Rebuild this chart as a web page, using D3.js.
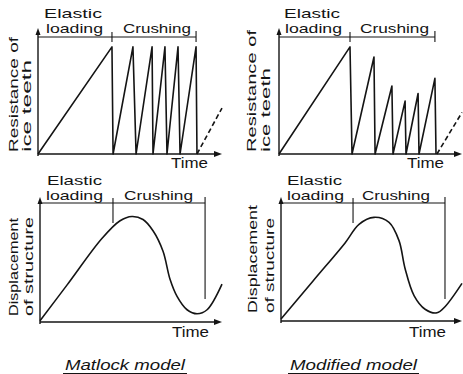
<!doctype html>
<html>
<head>
<meta charset="utf-8">
<title>Ice crushing models</title>
<script src="https://cdn.jsdelivr.net/npm/d3@7"></script>
<style>
body { margin: 0; background: #fff; }
svg text { font-family: "Liberation Sans", Arial, sans-serif; fill: #141414; }
</style>
</head>
<body>
<svg width="463" height="374"></svg>
<script>
// time is in arbitrary units, 0..10 along each axis; values are fractions of the axis height
var matlockResT = [0, 4.02, 4.08, 5.16, 5.33, 6.2, 6.25, 6.9, 7.01, 7.61, 7.72, 8.59, 8.64];
var matlockResV = [0, 0.85, 0, 0.85, 0, 0.85, 0, 0.85, 0, 0.85, 0, 0.85, 0];
var matlockNextT = [8.64, 10];
var matlockNextV = [0, 0.365];

var modifiedResT = [0, 3.88, 3.99, 5.19, 5.25, 6.17, 6.23, 6.89, 6.94, 7.6, 7.65, 8.52, 8.58];
var modifiedResV = [0, 0.85, 0, 0.77, 0, 0.54, 0, 0.42, 0, 0.48, 0, 0.6, 0];
var modifiedNextT = [8.63, 10];
var modifiedNextV = [0, 0.33];

var matlockDispT = [0, 1.48, 3.4, 4.4, 5.05, 5.66, 6.21, 6.76, 7.14, 7.53, 8.08, 8.63, 9.18, 10];
var matlockDispV = [0.01, 0.295, 0.668, 0.81, 0.844, 0.82, 0.73, 0.566, 0.344, 0.205, 0.098, 0.066, 0.098, 0.303];

var modifiedDispT = [0, 1.77, 3.54, 4.31, 5.14, 5.97, 6.52, 6.85, 7.35, 7.96, 8.62, 9.06, 10];
var modifiedDispV = [0.016, 0.323, 0.63, 0.78, 0.836, 0.795, 0.648, 0.426, 0.205, 0.095, 0.066, 0.115, 0.303];

// end of elastic loading, end of crushing
var matlockResPhases = [4.02, 8.59];
var modifiedResPhases = [3.88, 8.52];
var matlockDispPhases = [4.01, 9.07];
var modifiedDispPhases = [3.98, 9.06];

var phaseNames = ["Elastic", "loading", "Crushing"];
var resLabel = ["Resistance of", "ice teeth"];
var dispLabel = ["Displacement", "of structure"];
var timeLabel = "Time";
var modelNames = ["Matlock model", "Modified model"];

var svg = d3.select("svg");
var ink = "#141414";

function txt(g, s, x, y, len, size, rotate) {
    var t = g.append("text")
        .attr("x", x).attr("y", y)
        .attr("font-size", size)
        .attr("textLength", len)
        .attr("lengthAdjust", "spacingAndGlyphs")
        .text(s);
    if (rotate) t.attr("transform", "rotate(-90," + x + "," + y + ")");
    return t;
}

function panel(p) {
    var g = svg.append("g");
    var x = d3.scaleLinear().domain([0, 10]).range([p.x0, p.x1]);
    var y = d3.scaleLinear().domain([0, 1]).range([p.y0, p.top]);

    // axes
    g.append("line").attr("x1", p.x0).attr("x2", p.x0).attr("y1", p.y0 + 2).attr("y2", p.top + 3)
        .attr("stroke", ink).attr("stroke-width", 1.4);
    g.append("line").attr("x1", p.x0).attr("x2", p.x1 - 3).attr("y1", p.y0).attr("y2", p.y0)
        .attr("stroke", ink).attr("stroke-width", 1.4);
    g.append("path")
        .attr("d", "M" + p.x0 + "," + p.top + "l-2.5,7l5,0z").attr("fill", ink);
    g.append("path")
        .attr("d", "M" + p.x1 + "," + p.y0 + "l-8,-3l0,6z").attr("fill", ink);

    // phase bracket
    var e = x(p.phases[0]), c = x(p.phases[1]);
    g.append("line").attr("x1", p.x0).attr("x2", c).attr("y1", p.by).attr("y2", p.by)
        .attr("stroke", ink).attr("stroke-width", 1.2);
    g.append("line").attr("x1", e).attr("x2", e).attr("y1", p.by - 5).attr("y2", p.by + p.eTick)
        .attr("stroke", ink).attr("stroke-width", 1.1);
    g.append("line").attr("x1", c).attr("x2", c).attr("y1", p.by - 6).attr("y2", p.by + p.cTick)
        .attr("stroke", ink).attr("stroke-width", 1.1);

    var line = d3.line().x(function(d) { return x(d[0]); }).y(function(d) { return y(d[1]); });
    if (p.curve) line.curve(p.curve);
    g.append("path").attr("d", line(d3.zip(p.t, p.v)))
        .attr("fill", "none").attr("stroke", ink).attr("stroke-width", 1.6)
        .attr("stroke-linejoin", "round");
    if (p.nt) {
        g.append("path").attr("d", d3.line().x(function(d) { return x(d[0]); }).y(function(d) { return y(d[1]); })(d3.zip(p.nt, p.nv)))
            .attr("fill", "none").attr("stroke", ink).attr("stroke-width", 1.6)
            .attr("stroke-dasharray", "5,3");
    }

    // texts
    txt(g, phaseNames[0], p.lab[0][0], p.lab[0][1], p.lab[0][2], p.fs);
    txt(g, phaseNames[1], p.lab[1][0], p.lab[1][1], p.lab[1][2], p.fs);
    txt(g, phaseNames[2], p.lab[2][0], p.lab[2][1], p.lab[2][2], p.fs);
    txt(g, p.ylab[0], p.yl[0][0], p.yl[0][1], p.yl[0][2], 13.5, true);
    txt(g, p.ylab[1], p.yl[1][0], p.yl[1][1], p.yl[1][2], 13.5, true);
    txt(g, timeLabel, p.tl[0], p.tl[1], 37, 14);
}

panel({ x0: 38, x1: 222, y0: 154, top: 28, by: 37, eTick: 5, cTick: 5, fs: 13.5,
    phases: matlockResPhases, t: matlockResT, v: matlockResV, nt: matlockNextT, nv: matlockNextV,
    lab: [[44, 18, 58], [46, 33, 57], [123, 33, 68]],
    ylab: resLabel, yl: [[18, 152, 115], [31, 152, 92]], tl: [171, 168] });

panel({ x0: 279, x1: 462, y0: 154, top: 28, by: 37, eTick: 5, cTick: 5, fs: 13.5,
    phases: modifiedResPhases, t: modifiedResT, v: modifiedResV, nt: modifiedNextT, nv: modifiedNextV,
    lab: [[284, 17.5, 56], [285, 33, 57], [360, 33, 69]],
    ylab: resLabel, yl: [[256, 152, 122], [270, 152, 84]], tl: [407, 168] });

panel({ x0: 40, x1: 222, y0: 322, top: 197, by: 203, eTick: 20, cTick: 96, fs: 13,
    phases: matlockDispPhases, t: matlockDispT, v: matlockDispV, curve: d3.curveCatmullRom,
    lab: [[47, 185, 55], [46, 199.5, 57], [124, 200, 69]],
    ylab: dispLabel, yl: [[18, 316, 98], [33, 316, 99]], tl: [172, 337] });

panel({ x0: 281, x1: 462, y0: 321, top: 197, by: 203, eTick: 20, cTick: 96, fs: 13,
    phases: modifiedDispPhases, t: modifiedDispT, v: modifiedDispV, curve: d3.curveCatmullRom,
    lab: [[287, 184.5, 55], [287, 199.5, 57], [362, 200, 68]],
    ylab: dispLabel, yl: [[257, 313, 108], [274, 313, 95]], tl: [409, 337] });

// model names, italic and underlined
var names = [[65, 120], [290, 127]];
names.forEach(function(n, i) {
    txt(svg, modelNames[i], n[0], 370, n[1], 14).attr("font-style", "italic");
    svg.append("line").attr("x1", n[0] - 2).attr("x2", n[0] + n[1] + 2)
        .attr("y1", 373.5).attr("y2", 373.5).attr("stroke", ink).attr("stroke-width", 1);
});
</script>
</body>
</html>
